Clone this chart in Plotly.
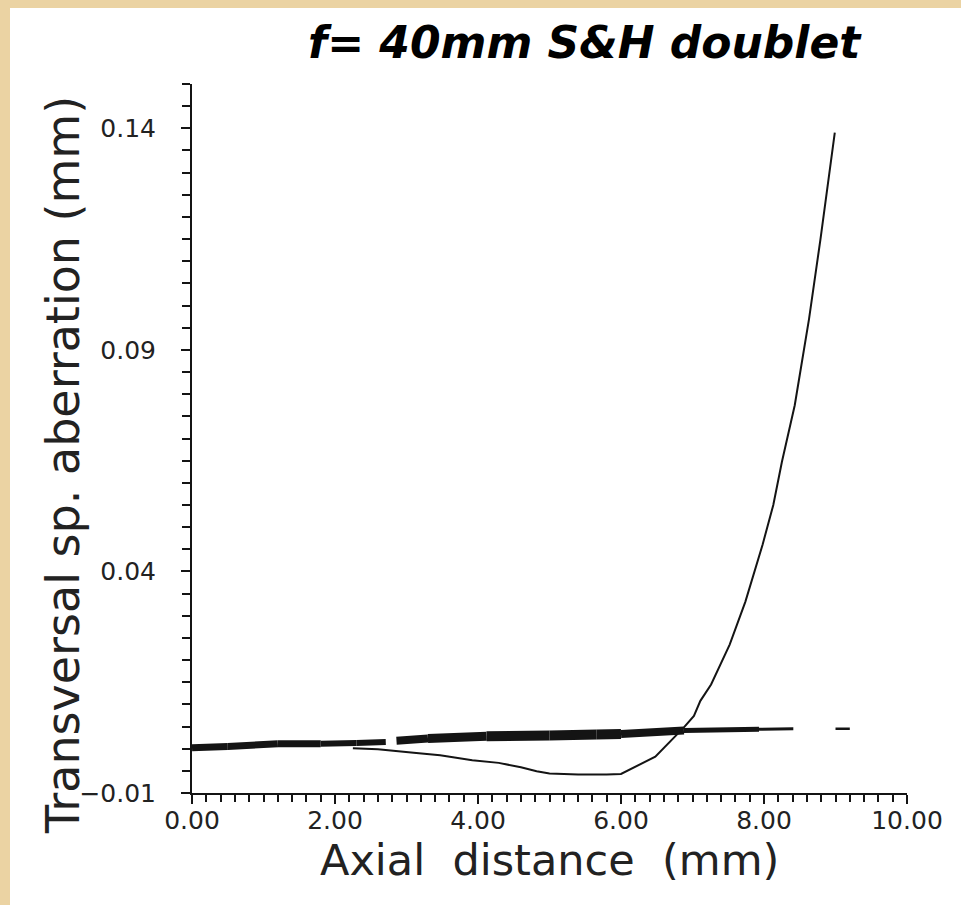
import plotly.graph_objects as go

# ---------------- data ----------------
thick_x1 = [0.00, 0.50, 1.20, 1.80, 2.30, 2.71]
thick_y1 = [0.0002, 0.0005, 0.0011, 0.0011, 0.0013, 0.0015]

thick_x2 = [2.86, 3.30, 4.12, 5.00, 5.66, 6.00, 6.88, 7.93, 8.41]
thick_y2 = [0.0018, 0.0023, 0.0028, 0.0030, 0.0032, 0.0033, 0.0041, 0.0044, 0.0045]

dash_x = [9.00, 9.20]
dash_y = [0.0045, 0.0045]

thin_x = [2.25, 2.60, 3.10, 3.47, 3.92, 4.29, 4.60, 4.82, 5.00, 5.40, 5.80, 6.00,
          6.48, 6.75, 6.88, 7.02, 7.11, 7.26, 7.52, 7.74, 7.98, 8.13, 8.25, 8.43,
          8.63, 8.79, 8.89, 8.99]
thin_y = [0.0001, -0.0001, -0.0009, -0.0015, -0.0026, -0.0032, -0.0042, -0.0051,
          -0.0056, -0.0058, -0.0058, -0.0057, -0.0018, 0.0026, 0.0048, 0.0074,
          0.0108, 0.0145, 0.0235, 0.0332, 0.0460, 0.0550, 0.0647, 0.0775,
          0.0970, 0.1150, 0.1270, 0.1390]

x_ticks = [0, 2, 4, 6, 8, 10]
y_ticks = [-0.01, 0.04, 0.09, 0.14]

title_text = "f= 40mm S&H doublet"
x_title = "Axial\u00a0 distance\u00a0 (mm)"
y_title = "Transversal sp. aberration (mm)"

# ---------------- styles ----------------
INK = "#141414"
BEIGE = "#EBD3A3"
seg1_widths = [7, 7, 7, 6, 6]
seg2_widths = [8, 9, 10, 10, 10, 8, 5, 3]

fig = go.Figure()

def add_segments(xs, ys, widths):
    for i in range(len(xs) - 1):
        fig.add_trace(go.Scatter(x=xs[i:i + 2], y=ys[i:i + 2], mode="lines",
                                 line=dict(color=INK, width=widths[i]),
                                 showlegend=False, hoverinfo="skip"))

add_segments(thick_x1, thick_y1, seg1_widths)
add_segments(thick_x2, thick_y2, seg2_widths)
fig.add_trace(go.Scatter(x=dash_x, y=dash_y, mode="lines",
                         line=dict(color=INK, width=2.5), showlegend=False))
fig.add_trace(go.Scatter(x=thin_x, y=thin_y, mode="lines",
                         line=dict(color=INK, width=2), showlegend=False))

tick_font = dict(family="DejaVu Sans", size=25, color="#222")

fig.update_xaxes(range=[0, 10], tickmode="array", tickvals=x_ticks,
                 tickformat=".2f", ticks="outside", ticklen=9, tickwidth=2,
                 tickcolor=INK, showline=True, linecolor=INK, linewidth=2,
                 showgrid=False, zeroline=False, tickfont=tick_font,
                 ticklabelstandoff=-5,
                 minor=dict(tickmode="linear", tick0=0, dtick=0.2, ticks="outside",
                            ticklen=7, tickwidth=2, tickcolor=INK, showgrid=False),
                 automargin=False)
fig.update_yaxes(range=[-0.01, 0.15], tickmode="array", tickvals=y_ticks,
                 tickformat=".2f", ticks="outside", ticklen=9, tickwidth=2,
                 tickcolor=INK, showline=True, linecolor=INK, linewidth=2,
                 showgrid=False, zeroline=False, tickfont=tick_font,
                 ticklabelstandoff=20,
                 minor=dict(tickmode="linear", tick0=-0.01, dtick=0.005,
                            ticks="outside", ticklen=8, tickwidth=2,
                            tickcolor=INK, showgrid=False),
                 automargin=False)

L, R, T, B = 192, 54, 84, 112
W, H = 961, 905
pw, ph = W - L - R, H - T - B

def px_to_paper_x(px):
    return (px - L) / pw

def px_to_paper_y(py):
    return (H - B - py) / ph

# beige scan border strips (top and left)
fig.add_shape(type="rect", xref="paper", yref="paper", layer="below",
              x0=px_to_paper_x(-5), x1=px_to_paper_x(W + 5),
              y0=px_to_paper_y(8), y1=px_to_paper_y(-5),
              fillcolor=BEIGE, line=dict(width=0))
fig.add_shape(type="rect", xref="paper", yref="paper", layer="below",
              x0=px_to_paper_x(-5), x1=px_to_paper_x(10),
              y0=px_to_paper_y(H + 5), y1=px_to_paper_y(-5),
              fillcolor=BEIGE, line=dict(width=0))

fig.add_annotation(text=title_text, xref="paper", yref="paper",
                   x=px_to_paper_x(585), y=px_to_paper_y(42),
                   xanchor="center", yanchor="middle", showarrow=False,
                   font=dict(family="DejaVu Sans", size=44, color="#000",
                             weight="bold", style="italic"))
fig.add_annotation(text=x_title, xref="paper", yref="paper",
                   x=px_to_paper_x(549), y=px_to_paper_y(860),
                   xanchor="center", yanchor="middle", showarrow=False,
                   font=dict(family="DejaVu Sans", size=43, color="#222"))
fig.add_annotation(text=y_title, xref="paper", yref="paper",
                   x=px_to_paper_x(63), y=px_to_paper_y(465),
                   xanchor="center", yanchor="middle", showarrow=False,
                   textangle=-90,
                   font=dict(family="DejaVu Sans", size=46, color="#222"))

fig.update_layout(width=W, height=H, margin=dict(l=L, r=R, t=T, b=B, autoexpand=False),
                  paper_bgcolor="white", plot_bgcolor="white", showlegend=False)

fig.write_html("out.html", config={"displayModeBar": False},
               post_script="document.body.style.margin='0';")
